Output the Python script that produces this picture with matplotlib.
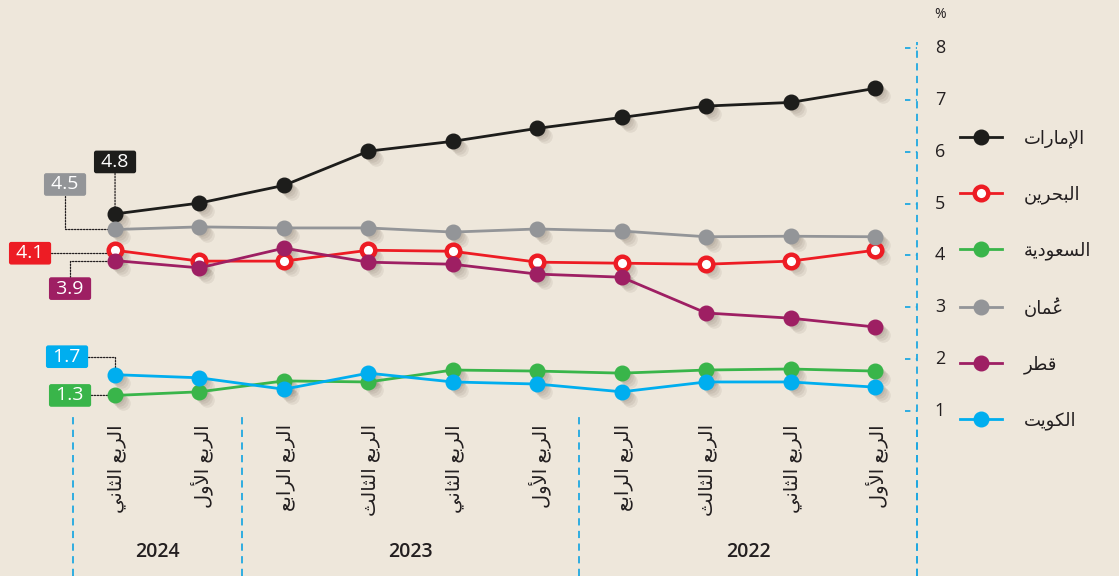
import matplotlib
matplotlib.use('Agg')
import matplotlib.pyplot as plt
from matplotlib.transforms import offset_copy

plt.rcParams['font.family'] = ['Open Sans', 'DejaVu Sans']

# Data (chronological: 2022 Q1 ... 2024 Q2), plotted right-to-left
quarters = ['الربع الأول', 'الربع الثاني', 'الربع الثالث', 'الربع الرابع',
            'الربع الأول', 'الربع الثاني', 'الربع الثالث', 'الربع الرابع',
            'الربع الأول', 'الربع الثاني']
years = ['2022', '2023', '2024']
year_span = [(0, 3), (4, 7), (8, 9)]

names = ['الإمارات', 'البحرين', 'السعودية', 'عُمان', 'قطر', 'الكويت']
uae = [7.22, 6.95, 6.88, 6.66, 6.45, 6.20, 6.01, 5.35, 5.01, 4.8]
bahrain = [4.10, 3.89, 3.83, 3.85, 3.87, 4.08, 4.10, 3.89, 3.89, 4.1]
saudi = [1.77, 1.81, 1.79, 1.73, 1.77, 1.79, 1.56, 1.58, 1.37, 1.3]
oman = [4.36, 4.37, 4.36, 4.47, 4.51, 4.45, 4.53, 4.53, 4.55, 4.5]
qatar = [2.62, 2.79, 2.89, 3.58, 3.64, 3.83, 3.87, 4.14, 3.76, 3.9]
kuwait = [1.46, 1.56, 1.56, 1.37, 1.52, 1.56, 1.73, 1.42, 1.64, 1.7]
series = [uae, bahrain, saudi, oman, qatar, kuwait]
colors = ['#1d1d1b', '#ed1c24', '#39b54a', '#939598', '#9e1f63', '#00aeef']
yticks = [1, 2, 3, 4, 5, 6, 7, 8]

# offsets (pixels) of the value boxes for the latest point
label_off = [(0, 52), (-85, -3), (-45, 0), (-50, 45), (-45, -28), (-48, 18)]
label_conn = ['arc3', 'angle,angleA=0,angleB=90,rad=0', 'arc3',
              'angle,angleA=90,angleB=0,rad=0', 'angle,angleA=90,angleB=0,rad=0',
              'angle,angleA=0,angleB=90,rad=0']

# --- minimal Arabic shaping (matplotlib has no complex text layout) ---
FORMS = {
    '\u0627': ('\uFE8D', '\uFE8E', None, None),
    '\u0623': ('\uFE83', '\uFE84', None, None),
    '\u0625': ('\uFE87', '\uFE88', None, None),
    '\u0628': ('\uFE8F', '\uFE90', '\uFE91', '\uFE92'),
    '\u0629': ('\uFE93', '\uFE94', None, None),
    '\u062A': ('\uFE95', '\uFE96', '\uFE97', '\uFE98'),
    '\u062B': ('\uFE99', '\uFE9A', '\uFE9B', '\uFE9C'),
    '\u062D': ('\uFEA1', '\uFEA2', '\uFEA3', '\uFEA4'),
    '\u062F': ('\uFEA9', '\uFEAA', None, None),
    '\u0631': ('\uFEAD', '\uFEAE', None, None),
    '\u0633': ('\uFEB1', '\uFEB2', '\uFEB3', '\uFEB4'),
    '\u0637': ('\uFEC1', '\uFEC2', '\uFEC3', '\uFEC4'),
    '\u0639': ('\uFEC9', '\uFECA', '\uFECB', '\uFECC'),
    '\u0642': ('\uFED5', '\uFED6', '\uFED7', '\uFED8'),
    '\u0643': ('\uFED9', '\uFEDA', '\uFEDB', '\uFEDC'),
    '\u0644': ('\uFEDD', '\uFEDE', '\uFEDF', '\uFEE0'),
    '\u0645': ('\uFEE1', '\uFEE2', '\uFEE3', '\uFEE4'),
    '\u0646': ('\uFEE5', '\uFEE6', '\uFEE7', '\uFEE8'),
    '\u0648': ('\uFEED', '\uFEEE', None, None),
    '\u064A': ('\uFEF1', '\uFEF2', '\uFEF3', '\uFEF4'),
    'LA\u0623': ('\uFEF7', '\uFEF8', None, None),
    'LA\u0625': ('\uFEF9', '\uFEFA', None, None),
    'LA\u0627': ('\uFEFB', '\uFEFC', None, None),
}
MARKS = '\u064B\u064C\u064D\u064E\u064F\u0650\u0651\u0652'


def shape_word(word):
    units = []
    for ch in word:
        if ch in MARKS and units:
            units[-1][1] += ch
        elif units and units[-1][0] == '\u0644' and ('LA' + ch) in FORMS:
            units[-1][0] = 'LA' + ch
        else:
            units.append([ch, ''])
    out = []
    for i, (key, marks) in enumerate(units):
        f = FORMS.get(key)
        if f is None:
            out.append(marks + key)
            continue
        prev = FORMS.get(units[i - 1][0]) if i > 0 else None
        nxt = FORMS.get(units[i + 1][0]) if i + 1 < len(units) else None
        jp = prev is not None and prev[2] is not None
        jn = f[2] is not None and nxt is not None
        g = f[3] if (jp and jn) else f[1] if jp else f[2] if jn else f[0]
        # zero-width mark goes right before its base in visual order
        out.append(marks + g)
    return ''.join(reversed(out))


def ar(text):
    return '\n'.join(' '.join(shape_word(w) for w in reversed(line.split(' ')))
                     for line in text.split('\n'))


# --- figure ---
W, H = 1119, 576
fig = plt.figure(figsize=(W / 100, H / 100), dpi=100)
fig.patch.set_facecolor('#eee7db')
ax = fig.add_axes([0, 0, 1, 1])
ax.axis('off')
# x: quarter index, reversed (pixel = 875 - 84.44*j); y: percent
ax.set_xlim(875 / 84.44, (875 - W) / 84.44)
ax.set_ylim(1 + (411 - H) / 51.86, 1 + 411 / 51.86)

xs = list(range(len(quarters)))
axis_blue = '#1fa8e1'
dark = '#231f20'

# right y axis (dashed) and tick marks
ax.plot([-0.5, -0.5], [ax.get_ylim()[0], 8.12], color=axis_blue, lw=1.3,
        dashes=(4, 3), zorder=1)
for v in yticks:
    ax.plot([-0.36, -0.5], [v, v], color=axis_blue, lw=1.3, dashes=(3, 3), zorder=1)
    ax.text(-0.77, v, str(v), ha='center', va='center', fontsize=13, color=dark)
ax.text(-0.77, 8.64, '%', ha='center', va='center', fontsize=10, color=dark)

# year separators
for sx in [-0.5, 3.5, 7.5, 9.5]:
    ax.plot([sx, sx], [0, 0.276], transform=ax.get_xaxis_transform(),
            color=axis_blue, lw=1.3, dashes=(4, 3), zorder=1)

# quarter and year labels
for j, q in enumerate(quarters):
    tr = offset_copy(ax.get_xaxis_transform(), fig=fig, x=2, y=0, units='dots')
    ax.text(j, 1 - 424 / H, ar(q), transform=tr, rotation=90,
            ha='center', va='top', fontsize=14, color=dark)
for y, (a, b) in zip(years, year_span):
    ax.text((a + b) / 2, 0.042, y, transform=ax.get_xaxis_transform(),
            ha='center', va='center', fontsize=14, fontweight='semibold', color=dark)

# shadows under markers
for vals in series:
    for k, (dx, dy) in enumerate([(2, -2), (4, -4), (6, -6), (8, -8)]):
        tr = offset_copy(ax.transData, fig=fig, x=dx, y=dy, units='dots')
        ax.plot(xs, vals, 'o', ms=10.5, color='#3a2a1a', alpha=0.07, mew=0,
                transform=tr, zorder=2)

# series
handles = []
for name, vals, c in zip(names, series, colors):
    if c == '#ed1c24':
        ln, = ax.plot(xs, vals, '-o', color=c, lw=2.0, ms=9.8, mfc='white',
                      mec=c, mew=3.2, label=ar(name), zorder=4)
    else:
        ln, = ax.plot(xs, vals, '-o', color=c, lw=2.0, ms=10.5, mec=c,
                      label=ar(name), zorder=4)
    handles.append(ln)

# value boxes for the latest quarter
for vals, c, off, conn in zip(series, colors, label_off, label_conn):
    ax.annotate(f' {vals[-1]:.1f} ', xy=(xs[-1], vals[-1]), xytext=off,
                textcoords='offset pixels', ha='center', va='center',
                fontsize=14, color='white', zorder=3,
                bbox=dict(boxstyle='round,pad=0.12,rounding_size=0.12', fc=c, ec='none'),
                arrowprops=dict(arrowstyle='-', color=dark, lw=0.9, linestyle=(0, (1.2, 1.2)),
                                connectionstyle=conn, shrinkA=0, shrinkB=0))

leg = ax.legend(handles=handles, loc='upper left', bbox_to_anchor=(960 / W, 1 - 129 / H),
                frameon=False, fontsize=13, handlelength=2.33, handletextpad=1.2,
                labelspacing=2.09, borderpad=0, borderaxespad=0, numpoints=1)
for t in leg.get_texts():
    t.set_color(dark)

fig.savefig('out.png', dpi=100, facecolor=fig.get_facecolor())
